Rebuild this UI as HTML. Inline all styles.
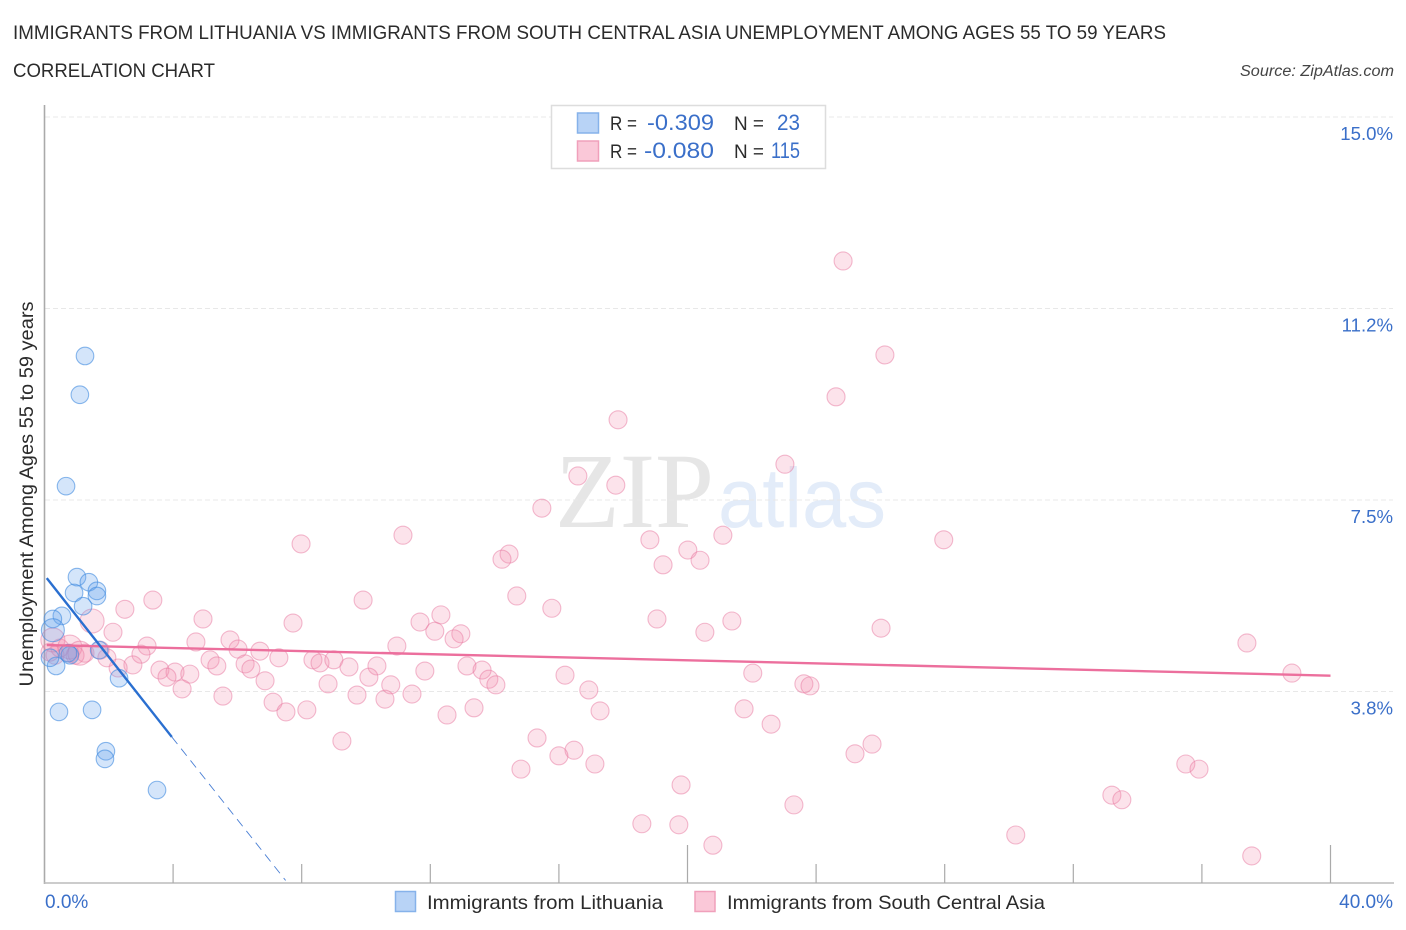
<!DOCTYPE html>
<html lang="en">
<head>
<meta charset="utf-8">
<title>Immigrants from Lithuania vs Immigrants from South Central Asia Unemployment Correlation Chart</title>
<style>
html,body{margin:0;padding:0;background:#fff;width:1406px;height:930px;overflow:hidden}
svg{display:block}
text{font-family:"Liberation Sans",sans-serif}
.dark{fill:#2b2b2b}
.blue{fill:#3a6fc9}
</style>
</head>
<body>
<svg id="chart" xmlns="http://www.w3.org/2000/svg" width="1406" height="930" viewBox="0 0 1406 930">
  <text class="dark" x="13" y="39" font-size="19" textLength="1153" lengthAdjust="spacingAndGlyphs">IMMIGRANTS FROM LITHUANIA VS IMMIGRANTS FROM SOUTH CENTRAL ASIA UNEMPLOYMENT AMONG AGES 55 TO 59 YEARS</text>
  <text class="dark" x="13" y="77" font-size="19" textLength="202" lengthAdjust="spacingAndGlyphs">CORRELATION CHART</text>
  <text fill="#444" x="1394" y="76" font-size="15.5" font-style="italic" text-anchor="end" textLength="154" lengthAdjust="spacingAndGlyphs">Source: ZipAtlas.com</text>

  <g>
    <text x="555" y="527" fill="#e6e6e6" font-size="107" textLength="159" lengthAdjust="spacingAndGlyphs" style="font-family:'Liberation Serif',serif">ZIP</text>
    <text x="718" y="527" fill="#e3ecf9" font-size="84" textLength="168" lengthAdjust="spacingAndGlyphs">atlas</text>
  </g>

  <g id="grid"></g>
  <g id="axes"></g>
  <g id="pink-points"></g>
  <g id="blue-points"></g>
  <g id="trends"></g>
  <g id="tick-labels"></g>

  <text class="dark" transform="translate(33,494) rotate(-90)" font-size="19" text-anchor="middle" textLength="385" lengthAdjust="spacingAndGlyphs">Unemployment Among Ages 55 to 59 years</text>

  <g>
    <rect x="551.5" y="105.5" width="274" height="63" fill="#fff" stroke="#ddd" stroke-width="1.5"/>
    <rect x="577.5" y="113" width="21" height="20" fill="#b8d3f6" stroke="#86b2ea" stroke-width="1.5"/>
    <rect x="577.5" y="141" width="21" height="20" fill="#fac8d8" stroke="#f0a0bb" stroke-width="1.5"/>
    <text class="dark" x="610" y="130" font-size="19" textLength="27" lengthAdjust="spacingAndGlyphs">R =</text>
    <text class="blue" x="647" y="130" font-size="22" textLength="67" lengthAdjust="spacingAndGlyphs">-0.309</text>
    <text class="dark" x="734" y="130" font-size="19" textLength="30" lengthAdjust="spacingAndGlyphs">N =</text>
    <text class="blue" x="777" y="130" font-size="22" textLength="23" lengthAdjust="spacingAndGlyphs">23</text>
    <text class="dark" x="610" y="158" font-size="19" textLength="27" lengthAdjust="spacingAndGlyphs">R =</text>
    <text class="blue" x="644" y="158" font-size="22" textLength="70" lengthAdjust="spacingAndGlyphs">-0.080</text>
    <text class="dark" x="734" y="158" font-size="19" textLength="30" lengthAdjust="spacingAndGlyphs">N =</text>
    <text class="blue" x="771" y="158" font-size="22" textLength="29" lengthAdjust="spacingAndGlyphs">115</text>
  </g>

  <g>
    <rect x="395.5" y="891.5" width="20" height="20" fill="#b8d3f6" stroke="#86b2ea" stroke-width="1.5"/>
    <text class="dark" x="427" y="909" font-size="19.5" textLength="236" lengthAdjust="spacingAndGlyphs">Immigrants from Lithuania</text>
    <rect x="695" y="891.5" width="20" height="20" fill="#fac8d8" stroke="#f0a0bb" stroke-width="1.5"/>
    <text class="dark" x="727" y="909" font-size="19.5" textLength="318" lengthAdjust="spacingAndGlyphs">Immigrants from South Central Asia</text>
  </g>
</svg>
<script>
const yTicks = [3.75, 7.5, 11.25, 15];
const yTickLabels = ["3.8%", "7.5%", "11.2%", "15.0%"];
const xTicks = [4, 8, 12, 16, 20, 24, 28, 32, 36, 40];
const xMajorTicks = [20, 40];
const xEndLabels = ["0.0%", "40.0%"];

const blueX = [1.26,1.10,0.67,1.01,1.38,1.63,1.63,0.92,1.20,0.54,0.26,0.79,0.73,1.70,0.36,0.17,2.32,0.45,1.48,1.91,1.88,3.50];
const blueY = [10.32,9.56,7.77,5.99,5.89,5.72,5.62,5.68,5.42,5.23,5.17,4.46,4.50,4.56,4.25,4.41,4.01,3.35,3.39,2.58,2.43,1.82];
const blueBigX = [0.26];
const blueBigY = [4.95];

const pinkX = [24.84,26.14,24.62,17.84,23.03,16.59,17.77,15.47,11.15,7.98,18.83,21.10,20.01,27.97,14.45,14.23,20.39,19.24,14.69,9.91,3.37,2.50,15.78,4.93,12.33,19.05,21.38,7.73,11.68,26.02,12.14,12.95,12.74,20.54,2.13,37.40,5.77,4.71,3.19,10.96,6.02,6.70,3.00,7.29,5.15,5.36,6.24,6.42,8.35,8.57,9.00,9.47,10.34,13.14,13.61,11.83,16.19,22.03,38.80,3.59,4.06,4.52,3.81,2.75,2.29,1.94,6.86,8.82,10.09,10.77,13.82,14.04,23.62,23.81,16.93,4.28,5.55,7.11,9.72,10.59,11.43,7.51,8.16,12.52,13.36,17.28,21.76,22.60,9.25,15.32,16.47,16.00,25.74,25.21,14.82,17.12,35.50,35.91,19.80,33.20,33.51,23.31,18.58,19.73,30.21,20.79,37.55,1.26,1.73,0.17,0.48,0.79,0.95,0.33];
const pinkY = [12.18,10.34,9.52,9.07,8.20,7.97,7.79,7.34,6.81,6.64,6.72,6.81,6.52,6.72,6.44,6.34,6.32,6.23,5.62,5.54,5.54,5.36,5.38,5.17,5.25,5.17,5.13,5.09,5.11,4.99,4.93,4.88,4.78,4.91,4.91,4.70,4.76,4.72,4.64,4.64,4.58,4.54,4.48,4.41,4.37,4.25,4.29,4.19,4.37,4.31,4.37,4.23,4.25,4.25,4.17,4.15,4.07,4.11,4.11,4.17,4.13,4.09,4.03,4.27,4.21,4.41,3.96,3.90,4.03,3.88,3.99,3.88,3.90,3.86,3.78,3.80,3.66,3.54,3.68,3.60,3.70,3.35,3.39,3.29,3.43,3.37,3.41,3.11,2.78,2.84,2.60,2.49,2.72,2.53,2.23,2.33,2.33,2.23,1.92,1.72,1.63,1.53,1.16,1.14,0.94,0.74,0.53,4.50,4.56,4.52,4.60,4.50,4.46,4.46];
const pinkBigX = [1.48,0.26,0.79,1.10];
const pinkBigY = [5.13,4.76,4.62,4.50];

const blueTrendSolidX = [0.07, 3.96];
const blueTrendSolidY = [5.97, 2.86];
const blueTrendDashX = [3.96, 7.5];
const blueTrendDashY = [2.86, 0.05];
const pinkTrendX = [0.07, 40];
const pinkTrendY = [4.66, 4.06];

const NS = 'http://www.w3.org/2000/svg';
const PX_PER_X = 32.15;
const PX_PER_Y = 51.07;
function xScale(v){ return 44.5 + v * PX_PER_X; }
function yScale(v){ return 883 - v * PX_PER_Y; }
function make(tag, attrs, parent){
  const el = document.createElementNS(NS, tag);
  for (const k in attrs) el.setAttribute(k, attrs[k]);
  parent.appendChild(el);
  return el;
}
const grid = document.getElementById('grid');
const axes = document.getElementById('axes');
const labels = document.getElementById('tick-labels');
const pinkLayer = document.getElementById('pink-points');
const blueLayer = document.getElementById('blue-points');
const trends = document.getElementById('trends');

yTicks.forEach(function(t, i){
  const line = make('line', {x1: 45, x2: 1393, y1: yScale(t), y2: yScale(t), stroke: '#e8e8e8', 'stroke-width': 1, 'stroke-dasharray': '5 3'}, grid);
  
  
  const lab = make('text', {x: 1393, y: yScale(t) + 23, 'font-size': 18.6, 'text-anchor': 'end', class: 'blue'}, labels);
  
  
  lab.textContent = yTickLabels[i];
});

const yAxis = make('line', {x1: 44.5, x2: 44.5, y1: 105, y2: 884, stroke: '#aaa', 'stroke-width': 1.6}, axes);


const xAxis = make('line', {x1: 44, x2: 1394, y1: 883, y2: 883, stroke: '#bbb', 'stroke-width': 1.6}, axes);


xTicks.forEach(function(t){
  const top = xMajorTicks.indexOf(t) >= 0 ? 845 : 864;
  const tick = make('line', {x1: xScale(t), x2: xScale(t), y1: top, y2: 883, stroke: '#aaa', 'stroke-width': 1.2}, axes);
  
  
});
const xLabelLeft = make('text', {x: 45, y: 908, 'font-size': 19, class: 'blue'}, labels);


xLabelLeft.textContent = xEndLabels[0];
const xLabelRight = make('text', {x: 1393, y: 908, 'font-size': 19, 'text-anchor': 'end', class: 'blue'}, labels);


xLabelRight.textContent = xEndLabels[1];

function pinkDot(x, y, r){
  const c = make('circle', {cx: xScale(x), cy: yScale(y), r: r, fill: '#f48fb1', 'fill-opacity': 0.25, stroke: '#e8789f', 'stroke-opacity': 0.5, 'stroke-width': 1.1}, pinkLayer);
  
  
}
function blueDot(x, y, r){
  const c = make('circle', {cx: xScale(x), cy: yScale(y), r: r, fill: '#64a2ee', 'fill-opacity': 0.28, stroke: '#3f8be0', 'stroke-opacity': 0.6, 'stroke-width': 1.1}, blueLayer);
  
  
}
pinkX.forEach(function(x, i){ pinkDot(x, pinkY[i], 9); });
pinkBigX.forEach(function(x, i){ pinkDot(x, pinkBigY[i], 12); });
blueX.forEach(function(x, i){ blueDot(x, blueY[i], 8.8); });
blueBigX.forEach(function(x, i){ blueDot(x, blueBigY[i], 11.5); });

const pinkTrend = make('line', {x1: xScale(pinkTrendX[0]), y1: yScale(pinkTrendY[0]), x2: xScale(pinkTrendX[1]), y2: yScale(pinkTrendY[1]), stroke: '#ec6f9d', 'stroke-width': 2.4}, trends);


const blueSolid = make('line', {x1: xScale(blueTrendSolidX[0]), y1: yScale(blueTrendSolidY[0]), x2: xScale(blueTrendSolidX[1]), y2: yScale(blueTrendSolidY[1]), stroke: '#2a6fd0', 'stroke-width': 2.4}, trends);


const blueDash = make('line', {x1: xScale(blueTrendDashX[0]), y1: yScale(blueTrendDashY[0]), x2: xScale(blueTrendDashX[1]), y2: yScale(blueTrendDashY[1]), stroke: '#4a7fd4', 'stroke-width': 0.9, 'stroke-dasharray': '9 6'}, trends);


</script>
</body>
</html>
